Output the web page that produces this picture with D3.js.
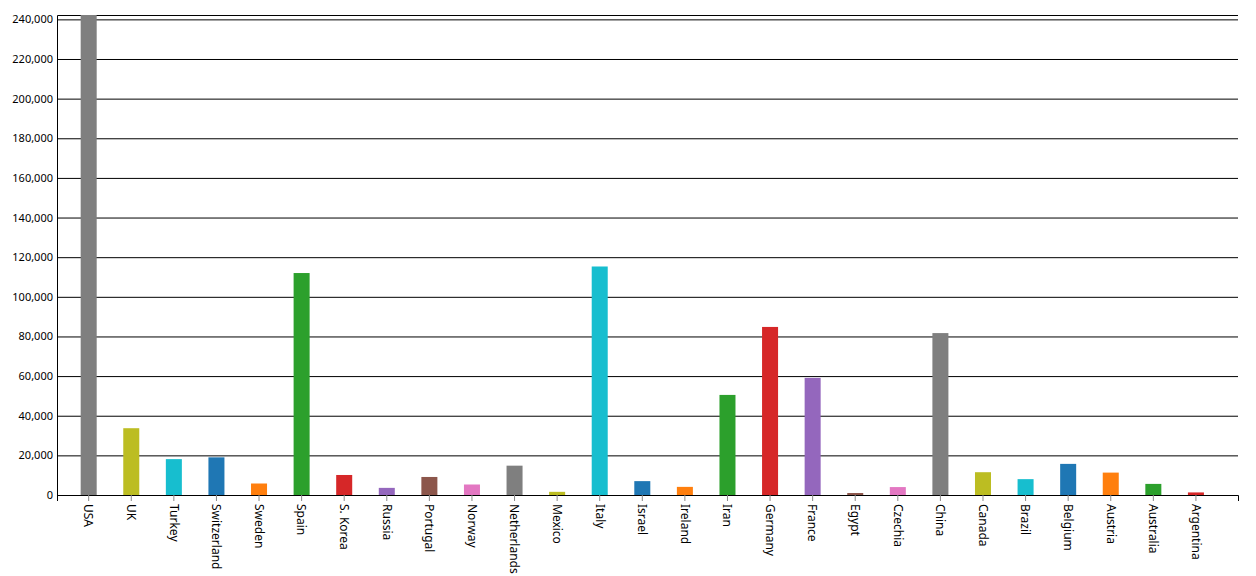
<!DOCTYPE html>
<html>
<head>
<meta charset="utf-8">
<script src="https://cdn.jsdelivr.net/npm/d3@7"></script>
<style>
  body { margin: 0; background: #fff; }
  svg { display: block; }
  .tick text { font-family: "Noto Sans", sans-serif; font-size: 11px; fill: #000; }
  .x-axis .tick text { font-size: 12px; }
</style>
</head>
<body>
<svg width="1256" height="576"></svg>
<script>
// data
var countries = ["USA", "UK", "Turkey", "Switzerland", "Sweden", "Spain", "S. Korea", "Russia",
  "Portugal", "Norway", "Netherlands", "Mexico", "Italy", "Israel", "Ireland", "Iran",
  "Germany", "France", "Egypt", "Czechia", "China", "Canada", "Brazil", "Belgium",
  "Austria", "Australia", "Argentina"];
var cases = [242200, 33700, 18100, 19000, 5800, 112000, 10100, 3600,
  9100, 5300, 14800, 1600, 115300, 7000, 4100, 50500,
  84800, 59100, 1000, 4000, 81700, 11500, 8000, 15700,
  11300, 5600, 1300];
var yTicks = [0, 20000, 40000, 60000, 80000, 100000, 120000, 140000, 160000, 180000, 200000, 220000, 240000];

var svg = d3.select("svg"),
  margin = { top: 15, right: 18, bottom: 81, left: 57 },
  width = +svg.attr("width") - margin.left - margin.right,
  height = +svg.attr("height") - margin.top - margin.bottom,
  g = svg.append("g").attr("transform", "translate(" + margin.left + "," + margin.top + ")");

var x = d3.scaleBand()
  .domain(countries)
  .range([0, width])
  .paddingInner(0.624)
  .paddingOuter(0.678)
  .align(0.41);

var y = d3.scaleLinear()
  .domain([0, d3.max(cases)])
  .range([height, 0]);

// colours run through category10 starting at grey
var scheme = d3.schemeCategory10.slice(7).concat(d3.schemeCategory10.slice(0, 7));
var color = d3.scaleOrdinal().domain(countries).range(scheme);

// y axis with grid
var yAxis = g.append("g")
  .call(d3.axisLeft(y).tickValues(yTicks).tickSize(-width).tickPadding(4).tickFormat(d3.format(",")));
yAxis.selectAll("line, path").attr("stroke", "#000");

var data = countries.map(function (c, i) { return { name: c, value: cases[i] }; });

g.selectAll(".bar")
  .data(data)
  .enter().append("rect")
  .attr("class", "bar")
  .attr("x", function (d) { return x(d.name); })
  .attr("y", function (d) { return y(d.value); })
  .attr("width", x.bandwidth())
  .attr("height", function (d) { return height - y(d.value); })
  .attr("fill", function (d) { return color(d.name); });

// x axis
var xAxis = g.append("g")
  .attr("class", "x-axis")
  .attr("transform", "translate(0," + height + ")")
  .call(d3.axisBottom(x).tickSize(6));
xAxis.selectAll("path").attr("stroke", "#000");
xAxis.selectAll("line").attr("stroke", "#888");
xAxis.selectAll("text")
  .attr("transform", "rotate(90)")
  .attr("x", 9)
  .attr("y", 0)
  .attr("dy", "0.35em")
  .attr("text-anchor", "start");
</script>
</body>
</html>
